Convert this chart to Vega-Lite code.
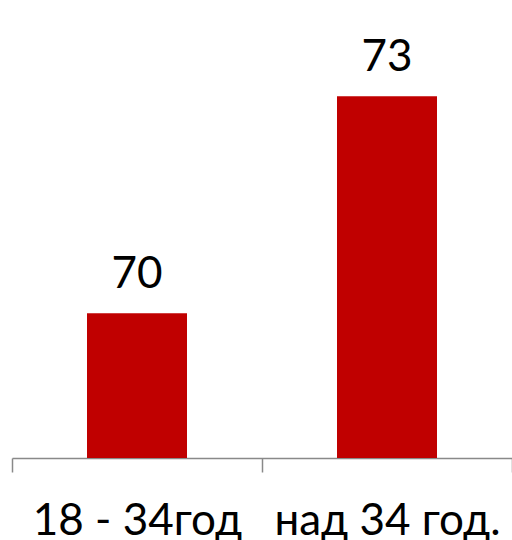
{
  "$schema": "https://vega.github.io/schema/vega-lite/v6.json",
  "width": 500,
  "height": 458,
  "autosize": "none",
  "padding": {"left": 12, "top": 0, "right": 0, "bottom": 82},
  "background": "white",
  "config": {"view": {"stroke": null}},
  "data": {"values": [
    {"group": "18 - 34год", "value": 70},
    {"group": "над 34 год.", "value": 73}
  ]},
  "encoding": {
    "x": {"field": "group", "type": "nominal", "sort": null,
      "scale": {"paddingInner": 0, "paddingOuter": 0},
      "axis": {"title": null, "labelAngle": 0, "tickBand": "extent", "domainColor": "#898989", "domainWidth": 1.5,
        "tickColor": "#898989", "tickWidth": 1.5, "tickSize": 14, "labelFont": "Lato", "labelFontSize": 44,
        "labelColor": "#000000", "labelBaseline": "alphabetic", "labelPadding": 62, "labelFlush": false,
        "labelLimit": 0, "labelOverlap": false}},
    "y": {"field": "value", "type": "quantitative",
      "scale": {"domain": [68, 74.33], "zero": false, "nice": false},
      "axis": null}
  },
  "layer": [
    {"mark": {"type": "bar", "color": "#C00000", "width": {"band": 0.4}, "clip": true}},
    {"mark": {"type": "text", "baseline": "alphabetic", "dy": -25, "font": "Lato", "fontSize": 44, "color": "#000000"},
     "encoding": {"text": {"field": "value", "type": "quantitative"}}}
  ]
}
